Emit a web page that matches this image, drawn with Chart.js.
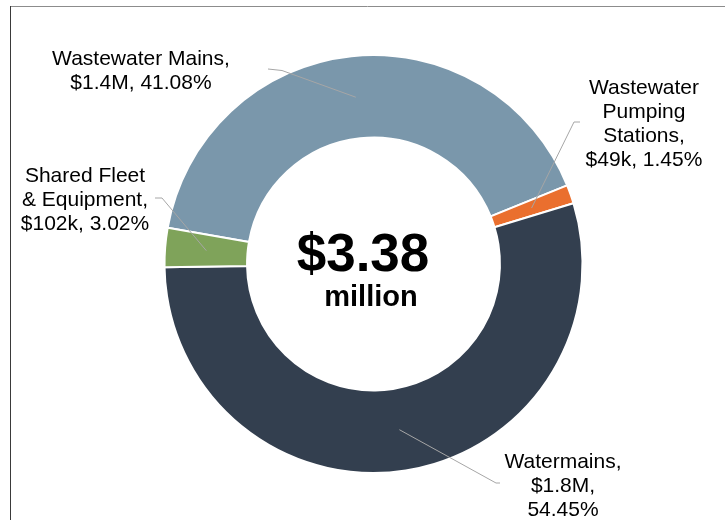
<!DOCTYPE html>
<html lang="en">
<head>
  <meta charset="UTF-8">
  <title>Capital Spending by Asset Group</title>
  <script src="https://cdn.jsdelivr.net/npm/chart.js"></script>
  <style>
    body { margin: 0; background: #fff; }
    canvas { display: block; }
  </style>
</head>
<body>
  <canvas id="donut" width="725" height="520"></canvas>

  <script>
    const categories = ["Wastewater Mains", "Wastewater Pumping Stations", "Watermains", "Shared Fleet & Equipment"];
    const shares = [41.08, 1.45, 54.45, 3.02];
    const amounts = ["$1.4M", "$49k", "$1.8M", "$102k"];
    const sliceColors = ["#7a97ab", "#ea6f2e", "#333f4f", "#7fa35a"];
    const totalLabel = "$3.38";
    const totalUnit = "million";

    function pct(i) { return shares[i].toFixed(2) + "%"; }

    // label text, wrapped to fit the space around the ring
    const labelLines = [
      [categories[0] + ",", amounts[0] + ", " + pct(0)],
      ["Wastewater", "Pumping", "Stations,", amounts[1] + ", " + pct(1)],
      [categories[2] + ",", amounts[2] + ",", pct(2)],
      ["Shared Fleet", "& Equipment,", amounts[3] + ", " + pct(3)]
    ];
    // centre x and first baseline of each label block
    const labelAt = [[141, 65], [644, 94], [563, 468], [85, 182]];
    // where each leader line leaves its label (then runs to the slice centre)
    const leaderFrom = [
      [[268, 69], [282, 70.5]],
      [[580, 122], [574, 122]],
      [[500, 483], [496, 483]],
      [[155, 198], [162, 198]]
    ];

    const FONT = "'Liberation Sans', Arial, sans-serif";

    const donutDecor = {
      id: "donutDecor",
      beforeDraw(chart) {
        const ctx = chart.ctx;
        ctx.save();
        ctx.lineWidth = 1;
        ctx.strokeStyle = "#8c8c8c";
        ctx.beginPath();
        ctx.moveTo(10, 6.5);
        ctx.lineTo(725, 6.5);
        ctx.stroke();
        ctx.strokeStyle = "#3a3a3a";
        ctx.beginPath();
        ctx.moveTo(10.5, 6);
        ctx.lineTo(10.5, 520);
        ctx.stroke();
        ctx.restore();
      },
      afterDatasetsDraw(chart) {
        const ctx = chart.ctx;
        const arcs = chart.getDatasetMeta(0).data;
        ctx.save();

        // leader lines
        ctx.strokeStyle = "#a6a6a6";
        ctx.lineWidth = 1;
        arcs.forEach((arc, i) => {
          const c = arc.getCenterPoint();
          const pts = leaderFrom[i];
          ctx.beginPath();
          ctx.moveTo(pts[0][0], pts[0][1]);
          for (let k = 1; k < pts.length; k++) ctx.lineTo(pts[k][0], pts[k][1]);
          ctx.lineTo(c.x, c.y);
          ctx.stroke();
        });

        // slice labels
        ctx.fillStyle = "#000";
        ctx.textAlign = "center";
        ctx.textBaseline = "alphabetic";
        ctx.font = "21px " + FONT;
        labelLines.forEach((lines, i) => {
          lines.forEach((t, j) => {
            ctx.fillText(t, labelAt[i][0], labelAt[i][1] + j * 24);
          });
        });

        // total in the hole
        ctx.font = "bold 53px " + FONT;
        ctx.fillText(totalLabel, 363, 270.5);
        ctx.font = "bold 29px " + FONT;
        ctx.fillText(totalUnit, 371, 306);
        ctx.restore();
      }
    };

    new Chart(document.getElementById("donut"), {
      type: "doughnut",
      data: {
        labels: categories,
        datasets: [{
          data: shares,
          backgroundColor: sliceColors,
          borderColor: "#ffffff",
          borderWidth: 2
        }]
      },
      options: {
        responsive: false,
        animation: false,
        rotation: -80,
        cutout: "60.5%",
        layout: { padding: { left: 99, right: 77, top: 54, bottom: 46 } },
        plugins: {
          legend: { display: false },
          tooltip: { enabled: false }
        }
      },
      plugins: [donutDecor]
    });
  </script>
</body>
</html>
